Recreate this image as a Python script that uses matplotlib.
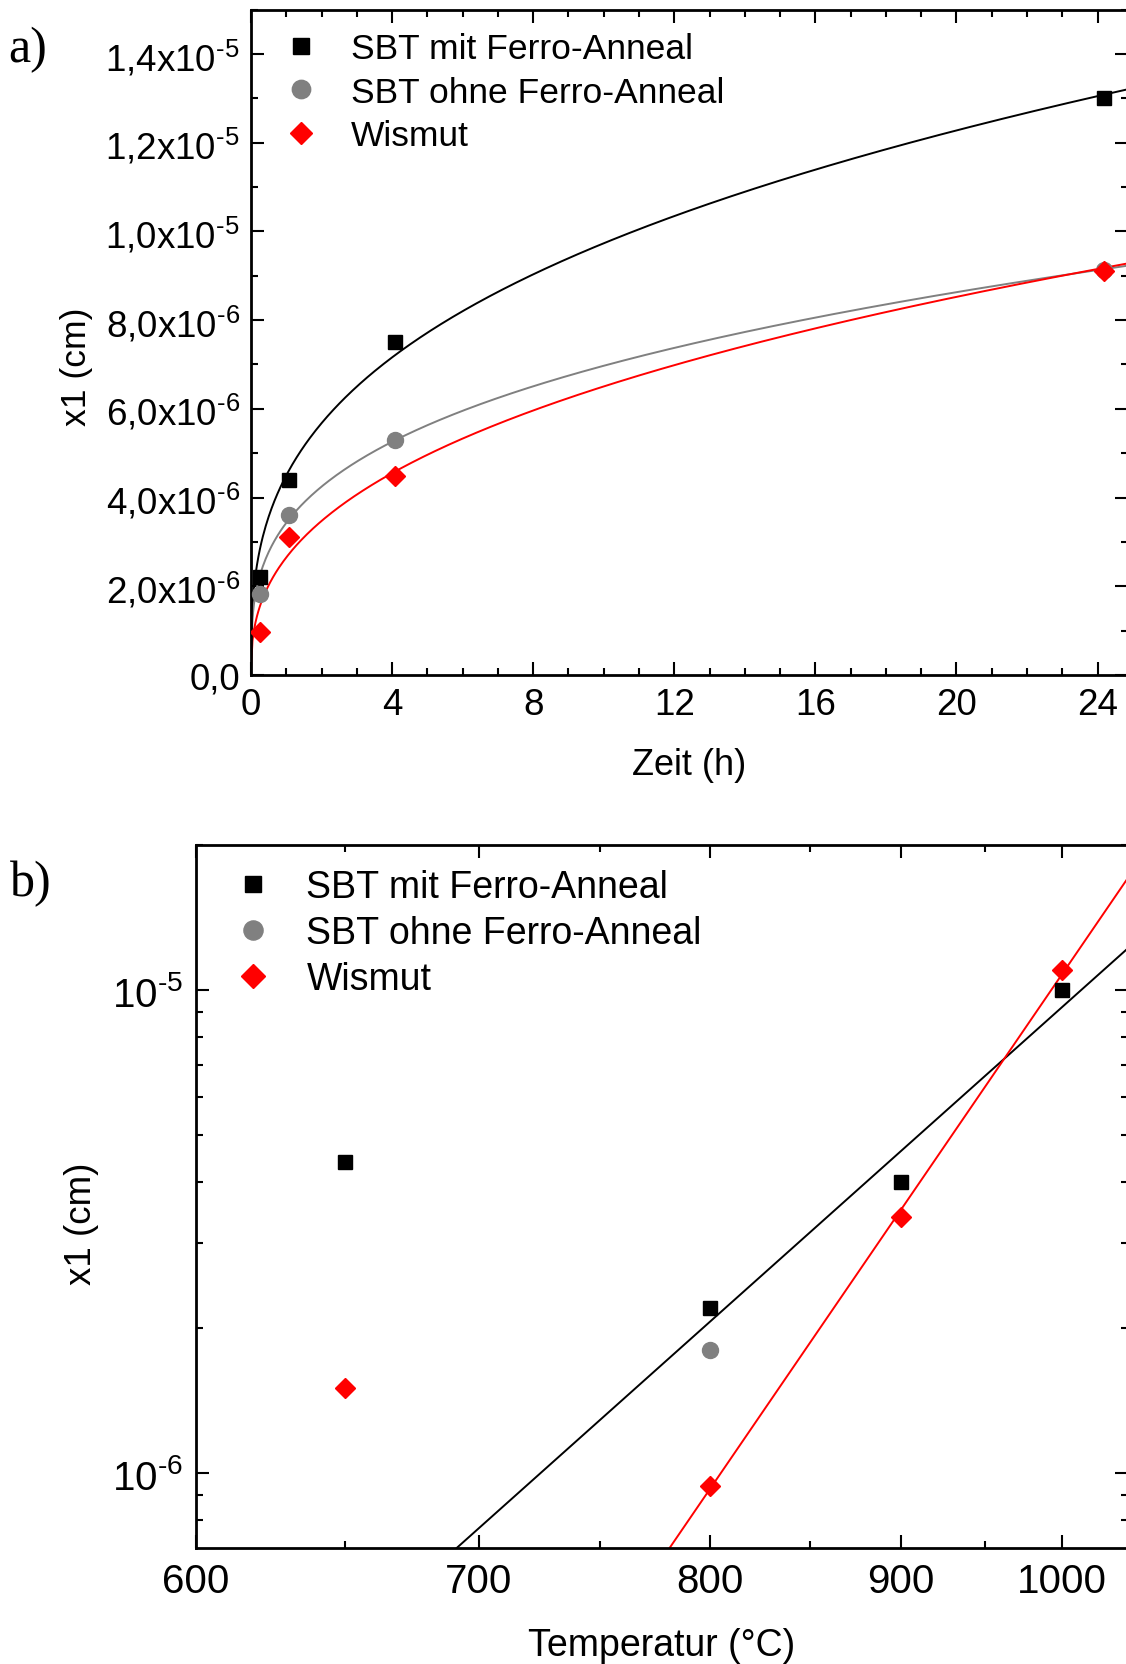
import numpy as np
import matplotlib
matplotlib.use("Agg")
import matplotlib.pyplot as plt
from matplotlib.ticker import MultipleLocator, FixedLocator, FuncFormatter, NullFormatter
from matplotlib.lines import Line2D

plt.rcParams['font.family'] = ['Liberation Sans', 'DejaVu Sans']
plt.rcParams['mathtext.fontset'] = 'custom'
plt.rcParams['mathtext.rm'] = 'Liberation Sans'
plt.rcParams['mathtext.it'] = 'Liberation Sans:italic'
plt.rcParams['mathtext.bf'] = 'Liberation Sans:bold'

# panel a: x1 vs anneal time
zeit_h = [0.25, 1.07, 4.08, 24.17]
mit_ferro_a = [2.2e-6, 4.4e-6, 7.5e-6, 13.0e-6]
ohne_ferro_a = [1.83e-6, 3.6e-6, 5.29e-6, 9.12e-6]
wismut_a = [0.96e-6, 3.1e-6, 4.48e-6, 9.1e-6]

# allometric fits x1 = a * t^n
fit_mit = (4.50e-6, 0.335)
fit_ohne = (3.43e-6, 0.308)
fit_wismut = (2.65e-6, 0.39)

# panel b: x1 vs temperature
temp_c = [650, 800, 900, 1000]
mit_ferro_b = [4.4e-6, 2.2e-6, 4.0e-6, 1.0e-5]
ohne_temp = [800]
ohne_ferro_b = [1.8e-6]
wismut_b = [1.5e-6, 0.94e-6, 3.39e-6, 1.10e-5]
fit_from_c = 800  # arrhenius fit only uses 800..1000 C

labels = ['SBT mit Ferro-Anneal', 'SBT ohne Ferro-Anneal', 'Wismut']

W, H = 1126, 1665
fig = plt.figure(figsize=(W / 100, H / 100), dpi=100)

def box(l, t, r, b):
    return [l / W, 1 - b / H, (r - l) / W, (b - t) / H]

def style(ax, size, xpad, ypad):
    for s in ax.spines.values():
        s.set_linewidth(2.0)
    ax.tick_params(which='both', direction='in', top=True, right=True, width=1.5)
    ax.tick_params(which='major', length=9.5, labelsize=size)
    ax.tick_params(which='minor', length=4.8)
    ax.tick_params(axis='x', which='major', pad=xpad)
    ax.tick_params(axis='y', which='major', pad=ypad)

# ---------- a) ----------
ax = fig.add_axes(box(251, 10.6, 1127.5, 676))
t = np.linspace(0.0005, 25, 600)
for (a, n), c in zip([fit_mit, fit_ohne, fit_wismut], ['black', 'gray', 'red']):
    ax.plot(t, a * t ** n, color=c, lw=1.4, zorder=2)
ax.plot(zeit_h, mit_ferro_a, 's', color='black', ms=10, zorder=3)
ax.plot(zeit_h, ohne_ferro_a, 'o', color='gray', ms=11.5, zorder=3)
ax.plot(zeit_h, wismut_a, 'D', color='red', ms=10, zorder=4)
ax.set_xlim(0, 24.85)
ax.set_ylim(0, 1.5e-5)
ax.xaxis.set_major_locator(MultipleLocator(4))
ax.xaxis.set_minor_locator(MultipleLocator(1))
ax.yaxis.set_major_locator(MultipleLocator(2e-6))
ax.yaxis.set_minor_locator(MultipleLocator(1e-6))

def sci_comma(v, pos):
    if abs(v) < 1e-12:
        return '0,0'
    e = int(np.floor(np.log10(abs(v)) + 1e-9))
    m = v / 10 ** e
    return f"{m:.1f}".replace('.', ',') + 'x10$^{\\text{' + str(e) + '}}$'

ax.yaxis.set_major_formatter(FuncFormatter(sci_comma))
style(ax, 26.5, 9, 8)
ax.set_xlabel('Zeit (h)', fontsize=26)
ax.set_ylabel('x1 (cm)', fontsize=25.5)
ax.xaxis.set_label_coords(0.5, -0.108)
ax.yaxis.set_label_coords(-0.18, 0.465)

handles = [Line2D([], [], ls='none', marker='s', color='black', ms=10),
           Line2D([], [], ls='none', marker='o', color='gray', ms=11.5),
           Line2D([], [], ls='none', marker='D', color='red', ms=10)]
ax.legend(handles, labels, loc='upper left', bbox_to_anchor=(0.0364, 0.966),
          frameon=False, fontsize=25.5, handlelength=1.0, handletextpad=0.91,
          labelspacing=0.30, borderaxespad=0, borderpad=0, markerscale=1.15)

# ---------- b) ----------
bx = fig.add_axes(box(195.5, 845.6, 1127.5, 1549))

def fwd(x):
    with np.errstate(divide='ignore', invalid='ignore'):
        return -1.0 / (np.asarray(x, dtype=float) + 273.15)

def inv(u):
    with np.errstate(divide='ignore', invalid='ignore'):
        return -1.0 / np.asarray(u, dtype=float) - 273.15

bx.set_xscale('function', functions=(fwd, inv))
bx.set_yscale('log')

tc = np.array(temp_c, dtype=float)
sel = tc >= fit_from_c
tt = np.linspace(600, 1050, 300)
for vals, c in [(mit_ferro_b, 'black'), (wismut_b, 'red')]:
    k, d = np.polyfit(1 / (tc[sel] + 273.15), np.log10(np.array(vals)[sel]), 1)
    bx.plot(tt, 10 ** (k / (tt + 273.15) + d), color=c, lw=1.4, zorder=2)

bx.plot(temp_c, mit_ferro_b, 's', color='black', ms=10, zorder=3)
bx.plot(ohne_temp, ohne_ferro_b, 'o', color='gray', ms=11.5, zorder=3)
bx.plot(temp_c, wismut_b, 'D', color='red', ms=10, zorder=4)

bx.set_xlim(600, 1045.5)
bx.set_ylim(7e-7, 2e-5)
bx.xaxis.set_major_locator(FixedLocator([600, 700, 800, 900, 1000]))
bx.xaxis.set_minor_locator(FixedLocator([650, 750, 850, 950]))
bx.xaxis.set_major_formatter(FuncFormatter(lambda v, p: f"{v:.0f}"))
bx.xaxis.set_minor_formatter(NullFormatter())
bx.yaxis.set_major_locator(FixedLocator([1e-6, 1e-5]))
bx.yaxis.set_minor_locator(FixedLocator([8e-7, 9e-7] + [m * 1e-6 for m in range(2, 10)] + [2e-5]))
bx.yaxis.set_major_formatter(FuncFormatter(
    lambda v, p: '10$^{\\text{' + str(int(round(np.log10(v)))) + '}}$'))
bx.yaxis.set_minor_formatter(NullFormatter())
style(bx, 29, 10, 9)
bx.set_xlabel('Temperatur (°C)', fontsize=27)
bx.set_ylabel('x1 (cm)', fontsize=26.5)
bx.xaxis.set_label_coords(0.5, -0.113)
bx.yaxis.set_label_coords(-0.104, 0.462)

bx.legend(handles, labels, loc='upper left', bbox_to_anchor=(0.0413, 0.965),
          frameon=False, fontsize=27, handlelength=1.0, handletextpad=0.93,
          labelspacing=0.27, borderaxespad=0, borderpad=0, markerscale=1.2)

fig.text(8.5 / W, 1 - 50 / H, 'a)', family='Liberation Serif', fontsize=36, va='center', ha='left')
fig.text(10 / W, 1 - 884 / H, 'b)', family='Liberation Serif', fontsize=36, va='center', ha='left')

fig.savefig('out.png', dpi=100)
